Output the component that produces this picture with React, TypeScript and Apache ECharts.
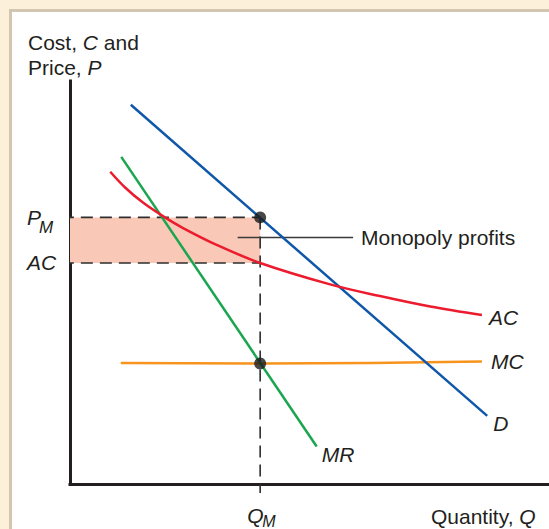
import React, { useEffect, useRef } from "react";
import * as echarts from "echarts";

// Monopoly equilibrium values (axis units 0..100)
const Q_M = 39.7;
const P_M = 66.2;
const AC_AT_QM = 54.9;
const MC_AT_QM = 30.0;
const DASH_LEFT = -1.7;
const DASH_BOTTOM = -2.1;

// Curves [quantity, cost/price]
const demandCurve: number[][] = [[12.7, 94.1], [87.1, 17.0]];
const mrCurve: number[][] = [[10.7, 81.2], [51.5, 9.4]];
const acCurve: number[][] = [
  [8.4, 77.5], [11.5, 73.6], [15.3, 69.8], [19.8, 66.2], [23.7, 63.5], [30.6, 59.4],
  [39.7, 54.9], [54.3, 49.6], [64.7, 46.7], [75.2, 44.1], [86.0, 42.0],
];
const mcCurve: number[][] = [[10.6, 30.1], [39.7, 30.0], [86.0, 30.5]];
const profitsPointer: number[][] = [[35.0, 61.2], [59.1, 61.2]];

const curveNames = { d: "D", mr: "MR", ac: "AC", mc: "MC" };
const profitsLabel = "Monopoly profits";
const yTitle = "Cost, {i|C} and\nPrice, {i|P}";
const xTitle = "Quantity, {i|Q}";

const FONT = "'Liberation Sans', Arial, Helvetica, sans-serif";
const INK = "#231f20";

export default function App() {
  const ref = useRef<HTMLDivElement>(null);

  useEffect(() => {
    if (!ref.current) return;
    const chart = echarts.init(ref.current, null, { renderer: "svg" });

    const endLabel = (text: string, color: string, distance: number, offset: number[], italic = true) => ({
      show: true,
      formatter: () => text,
      color,
      fontSize: 21,
      fontFamily: FONT,
      fontStyle: italic ? "italic" : "normal",
      distance,
      offset,
    });

    const dashed = (data: number[][]) => ({
      type: "line",
      data,
      showSymbol: false,
      clip: false,
      silent: true,
      z: 3,
      lineStyle: { color: "#2e2e2e", width: 1.6, type: [12, 7] },
    });

    const option: any = {
      animation: false,
      grid: { left: 70, right: 0, top: 81, bottom: 44.5 },
      xAxis: {
        type: "value",
        min: 0,
        max: 100,
        axisLine: { show: true, lineStyle: { color: INK, width: 3, cap: "square" } },
        axisTick: { show: false },
        axisLabel: { show: false },
        splitLine: { show: false },
      },
      yAxis: {
        type: "value",
        min: 0,
        max: 100,
        axisLine: { show: true, lineStyle: { color: INK, width: 3, cap: "square" } },
        axisTick: { show: false },
        axisLabel: { show: false },
        splitLine: { show: false },
      },
      series: [
        {
          type: "line",
          data: [],
          silent: true,
          markArea: {
            silent: true,
            itemStyle: { color: "#f9c8b7" },
            data: [[{ coord: [0, AC_AT_QM] }, { coord: [Q_M, P_M] }]],
          },
        },
        dashed([[DASH_LEFT, P_M], [Q_M, P_M]]),
        dashed([[DASH_LEFT, AC_AT_QM], [Q_M, AC_AT_QM]]),
        dashed([[Q_M, P_M], [Q_M, DASH_BOTTOM]]),
        {
          type: "line",
          data: profitsPointer,
          showSymbol: false,
          silent: true,
          z: 4,
          lineStyle: { color: "#3a3a3a", width: 1.5 },
          endLabel: endLabel(profitsLabel, INK, 8, [0, 0], false),
        },
        {
          type: "line",
          name: curveNames.mc,
          data: mcCurve,
          smooth: 0.5,
          showSymbol: false,
          z: 5,
          lineStyle: { color: "#f7941d", width: 2.5 },
          endLabel: endLabel(curveNames.mc, INK, 9, [0, 0]),
        },
        {
          type: "line",
          name: curveNames.mr,
          data: mrCurve,
          showSymbol: false,
          z: 5,
          lineStyle: { color: "#1aa54f", width: 2.5 },
          endLabel: endLabel(curveNames.mr, INK, 5, [0, 8]),
        },
        {
          type: "line",
          name: curveNames.d,
          data: demandCurve,
          showSymbol: false,
          z: 5,
          lineStyle: { color: "#0f57a8", width: 2.5 },
          endLabel: endLabel(curveNames.d, INK, 6, [0, 8]),
        },
        {
          type: "line",
          name: curveNames.ac,
          data: acCurve,
          smooth: 0.35,
          showSymbol: false,
          z: 5,
          lineStyle: { color: "#ec1c2e", width: 2.5 },
          endLabel: endLabel(curveNames.ac, INK, 7, [0, 2]),
        },
        {
          type: "scatter",
          data: [[Q_M, P_M], [Q_M, MC_AT_QM]],
          symbolSize: 12,
          z: 6,
          silent: true,
          itemStyle: { color: "#1a1a1a" },
        },
      ],
    };

    chart.setOption(option);

    const pm = chart.convertToPixel({ gridIndex: 0 }, [0, P_M]) as number[];
    const ac = chart.convertToPixel({ gridIndex: 0 }, [0, AC_AT_QM]) as number[];
    const qm = chart.convertToPixel({ gridIndex: 0 }, [Q_M, 0]) as number[];

    const txt = (text: string, x: number, y: number, size: number, italic: boolean, extra: any = {}) => ({
      type: "text",
      x,
      y,
      silent: true,
      z: 10,
      style: {
        text,
        fontSize: size,
        fontFamily: FONT,
        fontStyle: italic ? "italic" : "normal",
        fill: INK,
        align: "left",
        verticalAlign: "middle",
        ...extra,
      },
    });

    const richItalic = { i: { fontStyle: "italic", fontSize: 21, fontFamily: FONT, fill: INK } };

    chart.setOption({
      graphic: [
        txt(yTitle, 28, 54.5, 21, false, { rich: richItalic, lineHeight: 25 }),
        txt(xTitle, 431, 516, 21, false, { rich: richItalic }),
        txt("P", 27, pm[1], 21, true),
        txt("M", 39, pm[1] + 10, 17, true),
        txt("AC", 27, ac[1], 21, true),
        txt("Q", qm[0] - 13, 515, 21, true),
        txt("M", qm[0] + 2, 521, 16, true),
      ],
    });

    return () => chart.dispose();
  }, []);

  return (
    <div style={{ position: "fixed", left: 0, top: 0, width: 549, height: 529, background: "#fdf0da", overflow: "hidden" }}>
      <div
        style={{
          position: "absolute",
          left: 9,
          top: 9,
          right: 0,
          bottom: 0,
          background: "#ffffff",
          borderTop: "3px solid #d2c6b0",
          borderLeft: "3px solid #d2c6b0",
        }}
      />
      <div ref={ref} style={{ position: "absolute", left: 0, top: 0, width: 549, height: 529 }} />
    </div>
  );
}
